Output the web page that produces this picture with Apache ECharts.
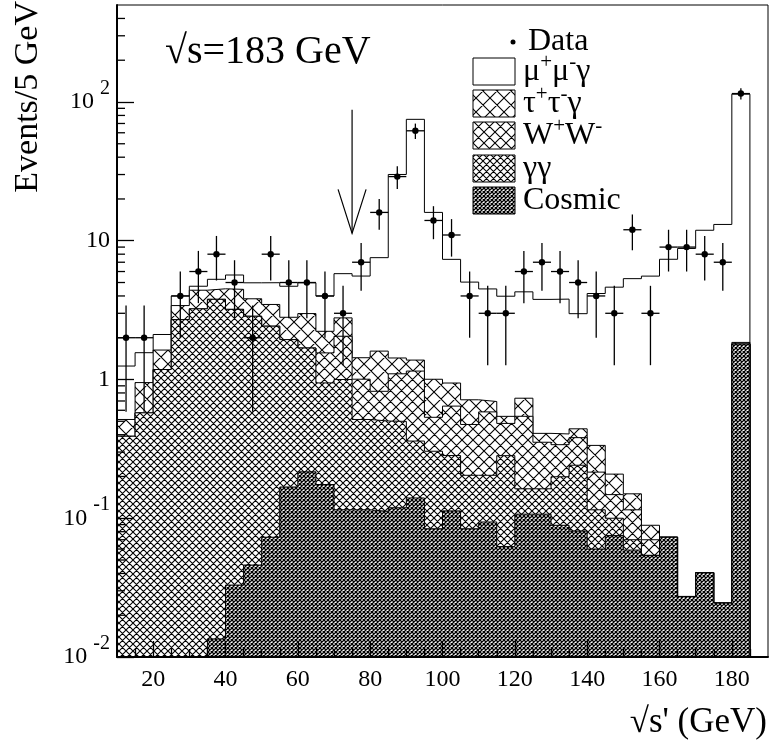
<!DOCTYPE html>
<html><head><meta charset="utf-8">
<script src="https://cdn.jsdelivr.net/npm/echarts@6/dist/echarts.min.js"></script>
<style>html,body{margin:0;padding:0;background:#fff}#c{width:770px;height:742px}</style>
</head><body><div id="c"></div>
<script>
// ---- data ----
const binCenters = [12.5,17.5,22.5,27.5,32.5,37.5,42.5,47.5,52.5,57.5,62.5,67.5,72.5,77.5,82.5,87.5,92.5,97.5,102.5,107.5,112.5,117.5,122.5,127.5,132.5,137.5,142.5,147.5,152.5,157.5,162.5,167.5,172.5,177.5,182.5];
const dataCounts = [2,2,null,4,6,8,5,2,8,5,5,4,3,7,16,29,62,14,11,4,3,3,6,7,6,5,4,3,12,3,9,9,8,7,115];
const mumugamma = [0.735,0.61,0.48,0.59,0.30,0.77,1.20,1.16,1.51,1.89,1.99,1.77,3.01,4.13,5.95,28.6,73.6,15.0,6.40,4.32,3.80,3.44,3.55,3.37,3.39,2.54,3.83,4.42,5.18,5.47,7.28,8.77,11.86,13.08,112];
const tautaugamma = [0.125,0.375,0.45,0.71,1.17,0.72,1.26,0.96,1.05,0.87,1.30,0.67,0.73,0.43,0.78,0.33,0.23,0.47,0.30,0.24,0.11,0.06,0.19,0.056,0.066,0.06,0.12,0.06,0.035,0.019,0,0,0,0,0.05];
const wwPairs = [0,0,0,0,0,0,0,0,0,0,0,0.61,1.05,0.49,0.32,0.60,0.79,0.23,0.36,0.27,0.38,0.20,0.38,0.19,0.14,0.14,0.10,0.048,0.045,0.016,0,0,0,0,0];
const gammagamma = [0.39,0.575,1.18,2.70,3.23,3.77,3.17,2.81,2.35,1.77,1.47,0.77,0.885,0.40,0.39,0.38,0.22,0.22,0.17,0.12,0.11,0.22,0.056,0.056,0.11,0.16,0.055,0.025,0.011,0,0,0,0,0,0];
const cosmic = [0,0,0,0,0,0.0135,0.033,0.046,0.073,0.168,0.216,0.175,0.115,0.115,0.112,0.119,0.14,0.084,0.113,0.084,0.094,0.0625,0.107,0.107,0.089,0.081,0.06,0.075,0.059,0.054,0.073,0.0273,0.0405,0.0245,1.8];
const xMajorTicks = [20,40,60,80,100,120,140,160,180];
const xMinorTicks = [15,25,30,35,45,50,55,65,70,75,85,90,95,105,110,115,125,130,135,145,150,155,165,170,175,185];
const yMinorTicks = [0.02,0.03,0.04,0.05,0.06,0.07,0.08,0.09,0.2,0.3,0.4,0.5,0.6,0.7,0.8,0.9,2,3,4,5,6,7,8,9,20,30,40,50,60,70,80,90,200,300,400];
const arrowMark = [[75, 88, 11.3]];
const BIN_W = 5, X_MIN = 10, X_MAX = 190, Y_MIN = 0.01, Y_MAX = 500;

const SERIF = '"Liberation Serif","DejaVu Serif","Times New Roman",serif';

// ---- cumulative stacks ----
const n = binCenters.length;
const cumCosmic = cosmic.slice();
const cumGG = cumCosmic.map((v,i)=>v+gammagamma[i]);
const cumWW = cumGG.map((v,i)=>v+wwPairs[i]);
const cumTau = cumWW.map((v,i)=>v+tautaugamma[i]);
const cumTotal = cumTau.map((v,i)=>v+mumugamma[i]);
function stepData(arr){
  const d=[];
  for(let i=0;i<n;i++) d.push([binCenters[i]-BIN_W/2, Math.max(arr[i],Y_MIN)]);
  d.push([binCenters[n-1]+BIN_W/2, Math.max(arr[n-1],Y_MIN)]);
  d.push([binCenters[n-1]+BIN_W/2, Y_MIN]);
  return d;
}
function hatch(p, lw){
  const c=document.createElement('canvas'); c.width=p; c.height=p;
  const g=c.getContext('2d'); g.fillStyle='#fff'; g.fillRect(0,0,p,p);
  g.strokeStyle='#000'; g.lineWidth=lw; g.beginPath();
  for(let k=-1;k<=1;k++){ g.moveTo(k*p,0); g.lineTo(k*p+p,p); g.moveTo(k*p+p,0); g.lineTo(k*p,p); }
  g.stroke(); return c;
}
const patTau = {image:hatch(14,1.1), repeat:'repeat'};
const patWW = {image:hatch(11,1.1), repeat:'repeat'};
const patGG = {image:hatch(7,1.1), repeat:'repeat'};
const patCos = {image:hatch(4,1.25), repeat:'repeat'};

function histSeries(name, arr, fill, z){
  return {name, type:'line', step:'end', data:stepData(arr), symbol:'none', showSymbol:false,
    lineStyle:{color:'#000', width:1}, areaStyle:{color:fill, opacity:1, origin:'start'}, z, silent:true, clip:true};
}
const errData = [];
binCenters.forEach((c,i)=>{ if(dataCounts[i]!=null) errData.push([c, dataCounts[i], Math.sqrt(dataCounts[i])]); });

const chart = echarts.init(document.getElementById('c'), null, {renderer:'canvas'});
const legendRows = [
  {text:'{n|μ}{s|+}{n|μ}{s|-}{n|γ}', fill:'#fff', y:58},
  {text:'{n|τ}{s|+}{n|τ}{s|-}{n|γ}', fill:patTau, y:90},
  {text:'{n|W}{s|+}{n|W}{s|-}', fill:patWW, y:122},
  {text:'{n|γγ}', fill:patGG, y:155},
  {text:'{n|Cosmic}', fill:patCos, y:187}
];
const richLeg = {n:{fontFamily:SERIF, fontSize:32, fill:'#000'}, s:{fontFamily:SERIF, fontSize:21, fill:'#000', padding:[0,0,20,0]}};
const graphics = [
  {type:'circle', shape:{cx:513, cy:42, r:2.5}, style:{fill:'#000'}, z:50},
  {type:'text', x:528, y:42, style:{text:'Data', fontFamily:SERIF, fontSize:32, fill:'#000', verticalAlign:'middle', align:'left'}, z:50},
  {type:'text', x:165, y:52, style:{text:'√s=183 GeV', fontFamily:SERIF, fontSize:40, fill:'#000', verticalAlign:'middle', align:'left'}, z:50},
  {type:'text', x:767, y:723, style:{text:"√s' (GeV)", fontFamily:SERIF, fontSize:35, fill:'#000', verticalAlign:'middle', align:'right'}, z:50},
  {type:'text', x:28, y:1, rotation:Math.PI/2, style:{text:'Events/5 GeV', fontFamily:SERIF, fontSize:34, fill:'#000', verticalAlign:'middle', align:'right'}, z:50}
];
legendRows.forEach(r=>{
  graphics.push({type:'rect', shape:{x:473, y:r.y, width:42, height:27}, style:{fill:r.fill, stroke:'#000', lineWidth:1}, z:50});
  graphics.push({type:'text', x:523, y:r.y+14, style:{text:r.text, rich:richLeg, verticalAlign:'middle', align:'left', fontFamily:SERIF, fontSize:32, fill:'#000'}, z:50});
});

const option = {
  animation:false,
  backgroundColor:'#fff',
  grid:{left:117, top:5, width:651, height:652, show:true, borderColor:'#000', borderWidth:1, backgroundColor:'transparent'},
  xAxis:[{type:'value', min:X_MIN, max:X_MAX, position:'bottom', z:20,
    axisLine:{show:true, onZero:false, lineStyle:{color:'#000', width:2}},
    axisTick:{show:true, inside:true, length:16, customValues:xMajorTicks, lineStyle:{color:'#000', width:1.3}},
    axisLabel:{customValues:xMajorTicks, color:'#000', fontFamily:SERIF, fontSize:24, margin:11},
    splitLine:{show:false}},
    {type:'value', min:X_MIN, max:X_MAX, position:'bottom', z:20,
    axisLine:{show:false}, axisTick:{show:true, inside:true, length:8, customValues:xMinorTicks, lineStyle:{color:'#000', width:1.3}},
    axisLabel:{show:false}, splitLine:{show:false}}],
  yAxis:[{type:'log', logBase:10, min:Y_MIN, max:Y_MAX, position:'left', z:20,
    axisLine:{show:true, onZero:false, lineStyle:{color:'#000', width:2}},
    axisTick:{show:true, inside:true, length:17, lineStyle:{color:'#000', width:1.3}},
    axisLabel:{color:'#000', fontFamily:SERIF, fontSize:24, margin:7, showMaxLabel:false,
      formatter:v=>{const p=Math.round(Math.log10(v)); if(Math.abs(Math.log10(v)-p)>0.01) return ''; if(p===0) return '{b|1}'; if(p===1) return '{b|10}'; return '{b|10}{s|'+p+'}';},
      rich:{b:{fontFamily:SERIF, fontSize:24, color:'#000'}, s:{fontFamily:SERIF, fontSize:20, color:'#000', padding:[0,0,26,6]}}},
    splitLine:{show:false}, minorTick:{show:false}}],
  graphic: graphics,
  series:[
    histSeries('μ+μ-γ', cumTotal, '#fff', 2),
    histSeries('τ+τ-γ', cumTau, patTau, 3),
    histSeries('W+W-', cumWW, patWW, 4),
    histSeries('γγ', cumGG, patGG, 5),
    histSeries('Cosmic', cumCosmic, patCos, 6),
    {type:'custom', name:'yMinor', xAxisIndex:0, yAxisIndex:0, z:21, silent:true, clip:false,
      data:yMinorTicks.map(v=>[X_MIN, v]),
      renderItem:(params, api)=>{ const p=api.coord([api.value(0), api.value(1)]);
        return {type:'line', shape:{x1:p[0], y1:p[1], x2:p[0]+8, y2:p[1]}, style:{stroke:'#000', lineWidth:1.3}}; }},
    {type:'custom', name:'arrow', z:12, silent:true, clip:false, data:arrowMark,
      renderItem:(params, api)=>{ const t=api.coord([api.value(0), api.value(1)]); const b=api.coord([api.value(0), api.value(2)]);
        return {type:'group', children:[
          {type:'line', shape:{x1:t[0], y1:t[1], x2:b[0], y2:b[1]}, style:{stroke:'#000', lineWidth:1.2}},
          {type:'polyline', shape:{points:[[b[0]-14,b[1]-44],[b[0],b[1]],[b[0]+14,b[1]-44]]}, style:{stroke:'#000', lineWidth:1.2, fill:null}}
        ]}; }},
    {type:'custom', name:'Data', z:15, silent:true, clip:false, data:errData,
      renderItem:(params, api)=>{
        const x=api.value(0), v=api.value(1), e=api.value(2);
        const c=api.coord([x,v]), l=api.coord([x-BIN_W/2,v]), r=api.coord([x+BIN_W/2,v]);
        const t=api.coord([x,v+e]), b=api.coord([x,v-e]);
        return {type:'group', children:[
          {type:'line', shape:{x1:l[0],y1:l[1],x2:r[0],y2:r[1]}, style:{stroke:'#000', lineWidth:1.3}},
          {type:'line', shape:{x1:t[0],y1:t[1],x2:b[0],y2:b[1]}, style:{stroke:'#000', lineWidth:1.3}},
          {type:'circle', shape:{cx:c[0],cy:c[1],r:3.2}, style:{fill:'#000'}}
        ]};
      }}
  ]
};
chart.setOption(option);
</script></body></html>
